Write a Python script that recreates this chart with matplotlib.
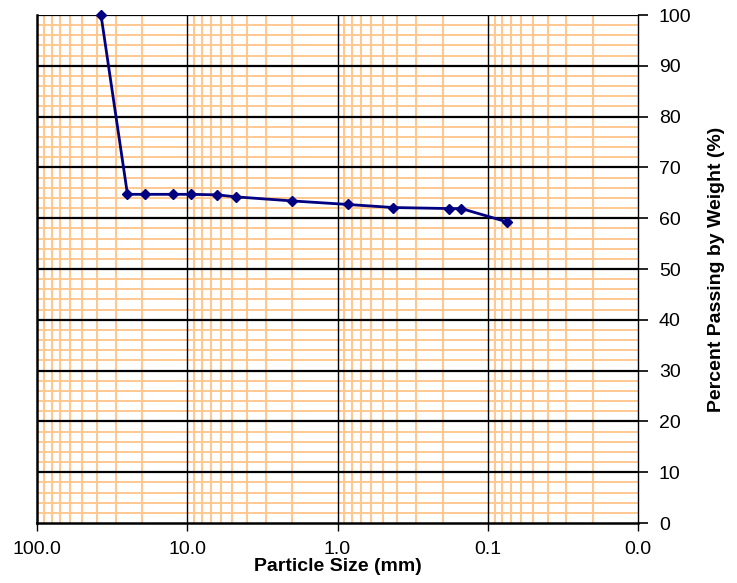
import numpy as np
import matplotlib.pyplot as plt
from matplotlib.ticker import FixedLocator, FuncFormatter

plt.rcParams['font.family'] = ['Liberation Sans', 'DejaVu Sans']

# Grain size data (sieve sizes in mm, percent passing)
sizes = [37.5, 25.0, 19.0, 12.5, 9.5, 6.3, 4.75, 2.0, 0.85, 0.425, 0.18, 0.15, 0.075]
passing = [100.0, 64.7, 64.7, 64.7, 64.7, 64.6, 64.2, 63.4, 62.7, 62.1, 61.9, 61.9, 59.3]

x_ticks = [100, 10, 1, 0.1, 0.01]
y_ticks = list(range(0, 101, 10))

ORANGE = "#ffc890"
NAVY = "#000080"

fig = plt.figure(figsize=(7.37, 5.83), dpi=100)
ax = fig.add_axes([37 / 737, 1 - 523 / 583, 601 / 737, 508 / 583])

ax.set_xscale("log")
ax.set_xlim(100, 0.01)
ax.set_ylim(0, 100)

# orange minor grid
minor_x = [m * 10.0 ** e for e in range(-2, 2) for m in range(2, 10)]
for xv in minor_x:
    ax.axvline(xv, color=ORANGE, lw=1.5, zorder=1)
for yv in range(2, 100, 2):
    if yv % 10:
        ax.axhline(yv, color=ORANGE, lw=1.4, zorder=1)

# black major grid
for xv in [10, 1, 0.1]:
    ax.axvline(xv, color="black", lw=1.0, zorder=2)
for yv in range(10, 101, 10):
    ax.axhline(yv, color="black", lw=1.6, zorder=2)

ax.plot(sizes, passing, color=NAVY, lw=2, marker="D", ms=5.5,
        mfc=NAVY, mec=NAVY, zorder=5, clip_on=False)

# axes styling
for side in ["left", "bottom"]:
    ax.spines[side].set_linewidth(1.8)
ax.spines["top"].set_visible(False)
ax.spines["right"].set_linewidth(1.0)

ax.xaxis.set_major_locator(FixedLocator(x_ticks))
ax.xaxis.set_minor_locator(FixedLocator([]))
ax.xaxis.set_major_formatter(FuncFormatter(lambda v, p: f"{v:.1f}"))
ax.tick_params(axis="x", direction="out", length=6, width=1, labelsize=14, pad=7)

ax.yaxis.tick_right()
ax.yaxis.set_label_position("right")
ax.set_yticks(y_ticks)
ax.tick_params(axis="y", direction="out", length=7, width=1.2, labelsize=14, pad=8)

ax.set_xlabel("Particle Size (mm)", fontsize=14, fontweight="bold", labelpad=0)
ax.set_ylabel("Percent Passing by Weight (%)", fontsize=14, fontweight="bold", labelpad=12)

fig.savefig("out.png", dpi=100)
